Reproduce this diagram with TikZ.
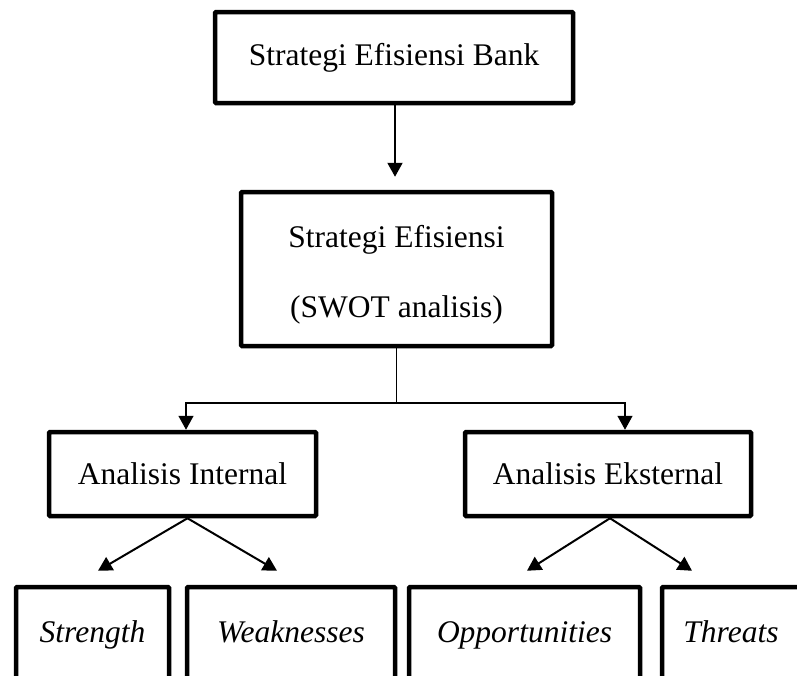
\documentclass[tikz,border=0pt]{standalone}
\usepackage{fontspec}
\setmainfont{Liberation Serif}
\usetikzlibrary{arrows.meta, positioning, calc}

\begin{document}
\begin{tikzpicture}[x=1pt, y=-1pt, box/.style={draw, line width=4.5pt, rounded corners=1pt, align=center, inner sep=0pt, font=\fontsize{31.5}{70}\selectfont}, leaf/.style={box, minimum height=96pt, text height=22pt, text depth=7pt, font=\fontsize{31.5}{38}\selectfont\itshape}, link/.style={line width=1.5pt}, >={Triangle[width=15pt, length=14pt]}]
\useasboundingbox (0,0) rectangle (797,675);
\clip (0,0) rectangle (797,675);
\node[box, minimum width=358pt, minimum height=91pt] (bank) at (394,57.5) {Strategi Efisiensi Bank};
\node[box, minimum width=311pt, minimum height=154pt] (swot) at (396.5,269) {\rule{0pt}{33pt}Strategi Efisiensi\\(SWOT analisis)};
\node[box, minimum width=267pt, minimum height=84pt] (internal) at (182.5,474) {Analisis Internal};
\node[box, minimum width=286pt, minimum height=84pt] (eksternal) at (608,474) {Analisis Eksternal};
\node[leaf, minimum width=153pt] (strength) at (92.5,635) {Strength};
\node[leaf, minimum width=208pt] (weak) at (291,635) {Weaknesses};
\node[leaf, minimum width=231pt] (opp) at (524.5,635) {Opportunities};
\node[leaf, minimum width=138pt] (threat) at (731,635) {Threats};
\coordinate (split) at (swot.south |- 0,403);
\draw[->, line width=2pt, shorten >=13pt] ([xshift=1pt]bank.south) -- ([xshift=1pt]bank.south |- swot.north);
\draw[link] (swot.south) -- (split);
\draw[link, ->] (split) -| ([xshift=3.5pt]internal.north);
\draw[link, ->] (split) -| ([xshift=17pt]eksternal.north);
\draw[->, line width=2pt] ([xshift=5pt]internal.south) -- ([xshift=5.5pt, yshift=14pt]strength.north);
\draw[->, line width=2pt] ([xshift=5pt]internal.south) -- ([xshift=-14pt, yshift=14pt]weak.north);
\draw[->, line width=2pt] ([xshift=2pt]eksternal.south) -- ([xshift=2.5pt, yshift=14pt]opp.north);
\draw[->, line width=2pt] ([xshift=2pt]eksternal.south) -- ([xshift=-39pt, yshift=14pt]threat.north);
\end{tikzpicture}
\end{document}
